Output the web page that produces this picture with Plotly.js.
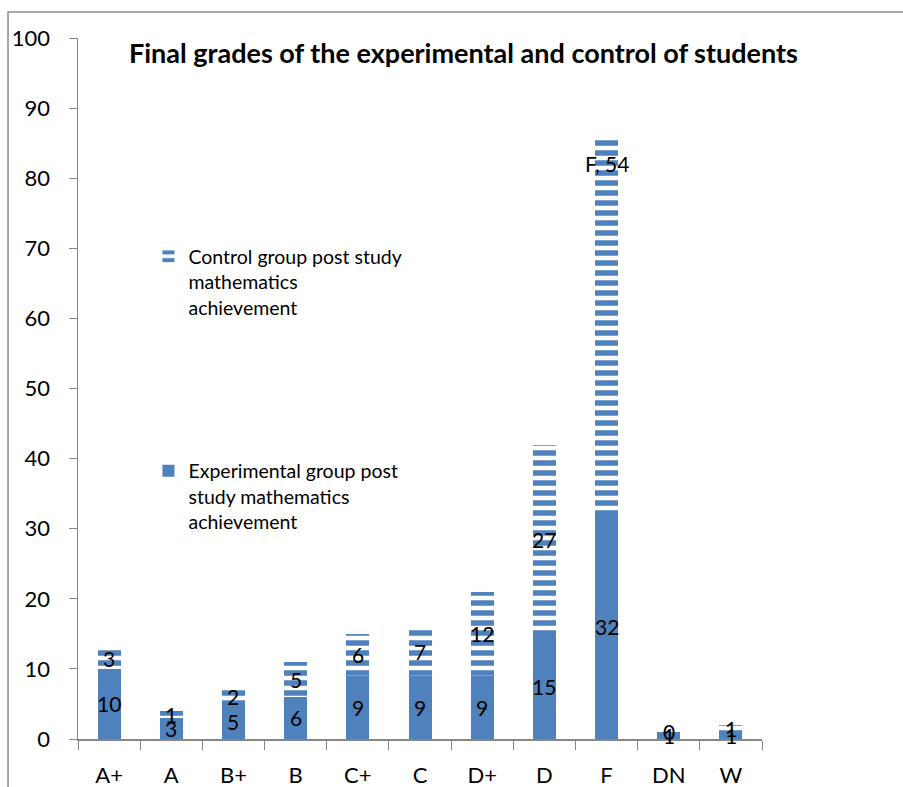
<!DOCTYPE html>
<html>
<head>
<meta charset="utf-8">
<script src="https://cdn.plot.ly/plotly-3.0.1.min.js"></script>
<style>
  html, body { margin: 0; padding: 0; background: #fff; }
  #chart { width: 903px; height: 787px; }
</style>
</head>
<body>
<div id="chart"></div>
<script>
const categories = ["A+", "A", "B+", "B", "C+", "C", "D+", "D", "F", "DN", "W"];
const experimental = [10, 3, 5, 6, 9, 9, 9, 15, 32, 1, 1];
const control = [3, 1, 2, 5, 6, 7, 12, 27, 54, 0, 1];
const yTicks = [0, 10, 20, 30, 40, 50, 60, 70, 80, 90, 100];
const expName = "Experimental group post<br>study mathematics<br>achievement";
const ctrlName = "Control group post study<br>mathematics<br>achievement";

const blue = "#4F81BD";
const font = "Lato, 'Liberation Sans', sans-serif";

const traces = [
  {
    type: "bar", x: categories, y: experimental, name: expName,
    marker: { color: blue, line: { width: 0 } },
    legend: "legend2", hoverinfo: "skip"
  },
  {
    type: "bar", x: categories, y: control, name: ctrlName,
    marker: {
      color: blue, line: { width: 0 },
      pattern: { shape: "-", fgcolor: blue, bgcolor: "#ffffff", size: 10, solidity: 0.55, fillmode: "replace" }
    },
    legend: "legend", hoverinfo: "skip"
  }
];

// data labels centred in each segment
const annotations = [];
const maxCtrl = Math.max(...control);
categories.forEach((c, i) => {
  annotations.push({
    x: c, y: experimental[i] / 2, text: String(experimental[i]),
    showarrow: false, font: { family: font, size: 21, color: "#000" }
  });
  const isMax = control[i] === maxCtrl;
  annotations.push({
    x: c,
    y: isMax ? experimental[i] + control[i] : experimental[i] + control[i] / 2,
    yshift: isMax ? -27 : 0,
    text: isMax ? c + ", " + control[i] : String(control[i]),
    showarrow: false, font: { family: font, size: 21, color: "#000" }
  });
});

annotations.push({
  xref: "paper", yref: "paper", x: 0.563, y: 1.0,
  xanchor: "center", yanchor: "middle", yshift: -14,
  text: "<b>Final grades of the experimental and control of students</b>",
  showarrow: false, font: { family: font, size: 27, color: "#000" }
});

const layout = {
  width: 903, height: 787,
  margin: { l: 78, r: 141, t: 38, b: 48 },
  paper_bgcolor: "#ffffff", plot_bgcolor: "#ffffff",
  font: { family: font, color: "#000" },
  barmode: "stack",
  bargap: 0.63,
  showlegend: true,
  xaxis: {
    type: "category", tickson: "boundaries", ticks: "outside", ticklen: 9,
    tickcolor: "#868686", showline: true, linecolor: "#868686", linewidth: 1.5,
    showgrid: false, zeroline: false, ticklabelstandoff: 16,
    tickfont: { family: font, size: 22, color: "#000" }, fixedrange: true
  },
  yaxis: {
    range: [0, 100], tickvals: yTicks, ticks: "outside", ticklen: 8,
    tickcolor: "#868686", showline: true, linecolor: "#868686", linewidth: 1.5,
    showgrid: false, zeroline: false, ticklabelstandoff: 14,
    tickfont: { family: font, size: 22, color: "#000" }, fixedrange: true
  },
  legend: {
    x: 0.103, y: 0.716, xanchor: "left", yanchor: "top", valign: "top",
    bgcolor: "rgba(0,0,0,0)", font: { family: font, size: 19.5, color: "#000" },
    itemclick: false, itemdoubleclick: false
  },
  legend2: {
    x: 0.103, y: 0.41, xanchor: "left", yanchor: "top", valign: "top",
    bgcolor: "rgba(0,0,0,0)", font: { family: font, size: 19.5, color: "#000" },
    itemclick: false, itemdoubleclick: false
  },
  annotations: annotations,
  shapes: [{
    type: "rect", xref: "paper", yref: "paper",
    x0: -0.1023, x1: 1.3, y0: -0.2, y1: 1.037,
    line: { color: "#8c8c8c", width: 1.5 }, fillcolor: "rgba(0,0,0,0)", layer: "below"
  }]
};

Plotly.newPlot("chart", traces, layout, { staticPlot: true, displayModeBar: false });
</script>
</body>
</html>
